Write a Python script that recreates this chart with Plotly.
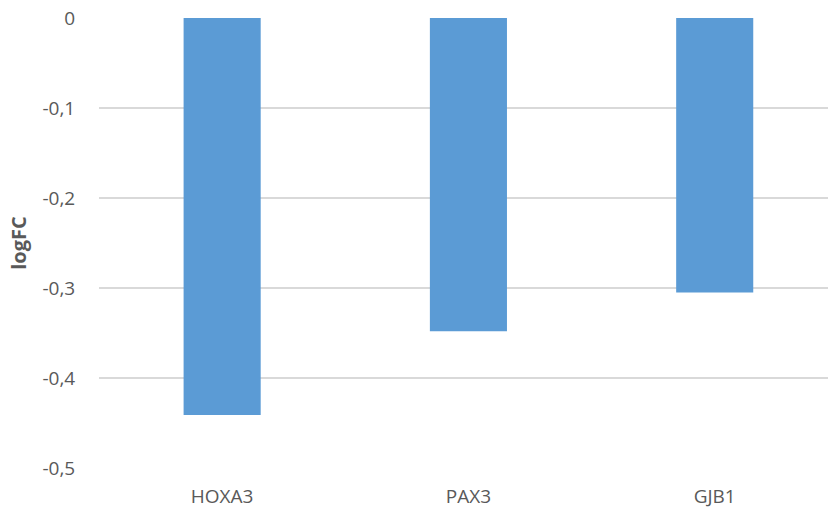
import plotly.graph_objects as go

genes = ["HOXA3", "PAX3", "GJB1"]
logfc = [-0.441, -0.348, -0.305]
ytick_vals = [0, -0.1, -0.2, -0.3, -0.4, -0.5]
ytick_text = ["0", "-0,1", "-0,2", "-0,3", "-0,4", "-0,5"]

font_family = "Open Sans"
text_color = "#595959"

fig = go.Figure(
    go.Bar(
        x=genes,
        y=logfc,
        marker=dict(color="#5b9bd5", line=dict(width=0)),
    )
)

fig.update_layout(
    width=828,
    height=508,
    margin=dict(l=99, r=0, t=18, b=40, autoexpand=False),
    paper_bgcolor="white",
    plot_bgcolor="white",
    bargap=0.687,
    showlegend=False,
    font=dict(family=font_family, size=19, color=text_color),
    separators=",.",
)

fig.update_xaxes(
    type="category",
    range=[-0.5, 2.46],
    automargin=False,
    showgrid=False,
    showline=False,
    zeroline=False,
    ticks="outside",
    ticklen=11,
    tickcolor="rgba(0,0,0,0)",
    tickfont=dict(family=font_family, size=19, color=text_color),
)

fig.update_yaxes(
    range=[-0.5, 0],
    automargin=False,
    tickvals=ytick_vals,
    ticktext=ytick_text,
    showgrid=True,
    gridcolor="#d9d9d9",
    gridwidth=1.5,
    zeroline=False,
    showline=False,
    ticks="outside",
    ticklen=19,
    tickcolor="rgba(0,0,0,0)",
    tickfont=dict(family=font_family, size=19, color=text_color),
    title=dict(
        text="<b>logFC</b>",
        font=dict(family=font_family, size=20, color=text_color),
        standoff=10,
    ),
)

fig.write_html("out.html")
